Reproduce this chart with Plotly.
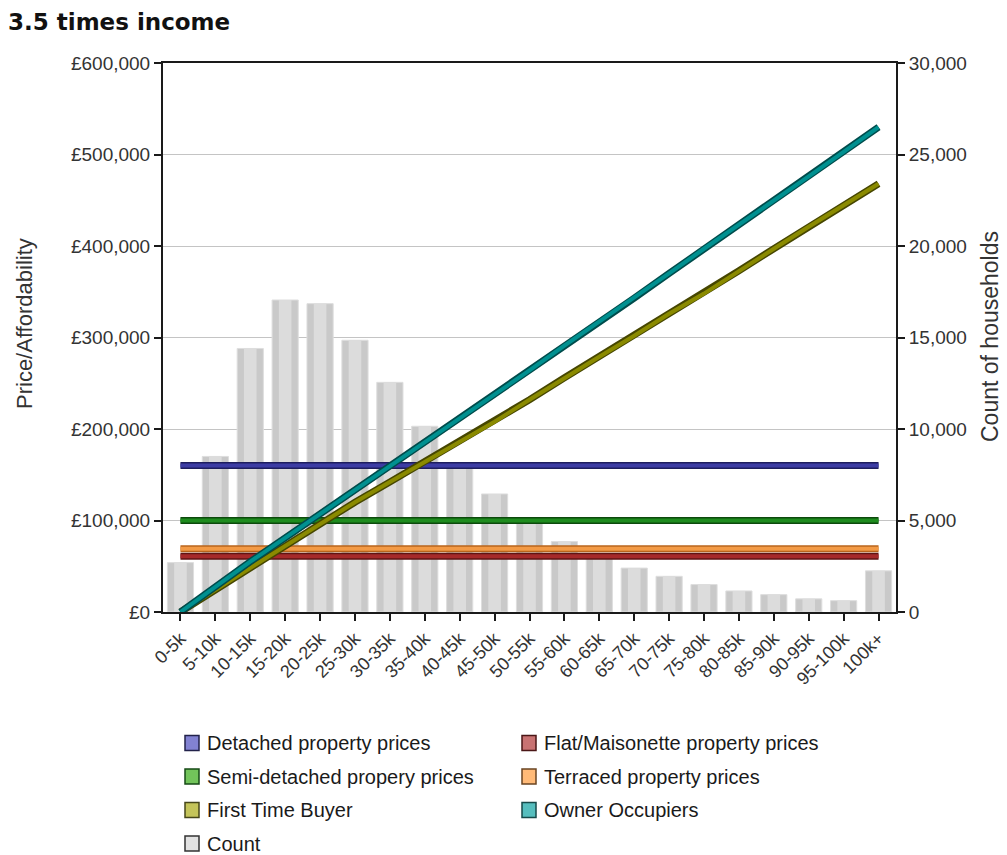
import plotly.graph_objects as go

# Income bands (household income)
bands = ["0-5k", "5-10k", "10-15k", "15-20k", "20-25k", "25-30k", "30-35k",
         "35-40k", "40-45k", "45-50k", "50-55k", "55-60k", "60-65k", "65-70k",
         "70-75k", "75-80k", "80-85k", "85-90k", "90-95k", "95-100k", "100k+"]

# Count of households in each band (right axis)
households = [2700, 8500, 14400, 17050, 16850, 14850, 12550, 10150, 8000, 6450,
              5050, 3850, 3050, 2400, 1950, 1500, 1150, 950, 720, 620, 2250]

# Average property prices (left axis)
detached = [160000] * 21
semi_detached = [100000] * 21
terraced = [69000] * 21
flat_maisonette = [61000] * 21

# Affordability at 3.5 times income
first_time_buyer = [0, 24000, 49000, 73000, 97000, 120000, 142000, 164000, 187000,
                    208000, 232000, 256000, 279000, 302000, 326000, 348000, 373000,
                    397000, 421000, 444000, 468000]
owner_occupiers = [0, 28000, 55000, 81000, 107000, 133000, 159000, 185000, 211000,
                   238000, 264000, 291000, 317000, 343000, 370000, 397000, 423000,
                   450000, 476000, 503000, 530000]

LABEL_FONT = "Liberation Sans, Arial, sans-serif"
TEXT = "#333333"

fig = go.Figure()

# Household counts as grey columns (primary axis, drawn underneath);
# a narrower lighter column on top gives the rounded shading
fig.add_trace(go.Bar(
    x=bands, y=households, name="Count", yaxis="y", width=0.75,
    marker=dict(color="#c9c9c9", line=dict(color="#dedede", width=1)),
    showlegend=False, hoverinfo="x+y",
))
fig.add_trace(go.Bar(
    x=bands, y=households, name="Count", yaxis="y", width=0.36,
    marker=dict(color="#dcdcdc", line=dict(width=0)),
    showlegend=False, hoverinfo="skip",
))

# Price lines: a dark wide stroke under a coloured core gives the bevelled look
line_series = [
    ("Flat/Maisonette property prices", flat_maisonette, "#5e1414", "#a62a2a"),
    ("Terraced property prices", terraced, "#b8651c", "#f39a45"),
    ("Semi-detached propery prices", semi_detached, "#0c4a0c", "#1e8c1e"),
    ("Detached property prices", detached, "#1e1e5e", "#3c3ca4"),
    ("First Time Buyer", first_time_buyer, "#464600", "#8a8a00"),
    ("Owner Occupiers", owner_occupiers, "#004c4c", "#009090"),
]
for name, vals, edge, core in line_series:
    fig.add_trace(go.Scatter(
        x=bands, y=vals, yaxis="y2", mode="lines", name=name,
        line=dict(color=edge, width=7), showlegend=False, hoverinfo="skip",
    ))
    fig.add_trace(go.Scatter(
        x=bands, y=vals, yaxis="y2", mode="lines", name=name,
        line=dict(color=core, width=4), showlegend=False,
    ))

# Plot area in pixels
L, R, T, B = 163, 896, 63, 612
W, H = 1007, 855


def px(x):
    return (x - L) / (R - L)


def py(y):
    return (B - y) / (B - T)


shapes = []
annotations = []

# Legend: square swatches with labels in two columns
legend_items = [
    ("Detached property prices", "#8282d2", "#22224a", 185, 743),
    ("Flat/Maisonette property prices", "#c87272", "#4a1616", 522, 743),
    ("Semi-detached propery prices", "#72c45a", "#164a16", 185, 776.5),
    ("Terraced property prices", "#ffba78", "#6a4422", 522, 776.5),
    ("First Time Buyer", "#c4c45a", "#46461a", 185, 810),
    ("Owner Occupiers", "#56bebe", "#164a4a", 522, 810),
    ("Count", "#e2e2e2", "#333333", 185, 843.5),
]
for label, fill, border, x0, yc in legend_items:
    shapes.append(dict(
        type="rect", xref="paper", yref="paper",
        x0=px(x0), x1=px(x0 + 14), y0=py(yc + 7.5), y1=py(yc - 7.5),
        fillcolor=fill, line=dict(color=border, width=1.5), layer="above",
    ))
    annotations.append(dict(
        text=label, xref="paper", yref="paper", x=px(x0 + 20), y=py(yc),
        xanchor="left", yanchor="middle", showarrow=False,
        font=dict(family=LABEL_FONT, size=20, color="#1a1a1a"),
    ))

# Axis titles
annotations.append(dict(
    text="Price/Affordability", xref="paper", yref="paper",
    x=px(24), y=py(324), textangle=-90, showarrow=False,
    xanchor="center", yanchor="middle",
    font=dict(family=LABEL_FONT, size=22, color=TEXT),
))
annotations.append(dict(
    text="Count of households", xref="paper", yref="paper",
    x=px(990), y=py(336), textangle=-90, showarrow=False,
    xanchor="center", yanchor="middle",
    font=dict(family=LABEL_FONT, size=23, color=TEXT),
))

fig.update_layout(
    width=W, height=H,
    margin=dict(l=L, r=W - R, t=T, b=H - B),
    paper_bgcolor="white", plot_bgcolor="white",
    title=dict(
        text="<b>3.5 times income</b>", x=8 / W, xanchor="left",
        y=1 - 22 / H, yanchor="middle",
        font=dict(family="DejaVu Sans, Verdana, sans-serif", size=23, color="#111111"),
    ),
    barmode="overlay",
    showlegend=False,
    xaxis=dict(
        type="category", showline=True, linecolor="#1a1a1a", linewidth=2,
        mirror=True, ticks="outside", ticklen=7, tickwidth=2, tickcolor="#1a1a1a",
        tickangle=-45, showgrid=False,
        tickfont=dict(family=LABEL_FONT, size=18, color=TEXT),
    ),
    # Household count axis (right) carries the gridlines
    yaxis=dict(
        side="right", range=[0, 30000], dtick=5000, tickformat=",d",
        showline=True, linecolor="#1a1a1a", linewidth=2,
        ticks="outside", ticklen=7, tickwidth=1.5, tickcolor="#1a1a1a",
        showgrid=True, gridcolor="#c4c4c4", gridwidth=1, zeroline=False,
        tickfont=dict(family=LABEL_FONT, size=19, color=TEXT),
    ),
    # Price axis (left) drawn over the columns
    yaxis2=dict(
        overlaying="y", side="left", range=[0, 600000], dtick=100000,
        tickprefix="£", tickformat=",d",
        showline=True, linecolor="#1a1a1a", linewidth=2,
        ticks="outside", ticklen=7, tickwidth=1.5, tickcolor="#1a1a1a",
        showgrid=False, zeroline=False,
        tickfont=dict(family=LABEL_FONT, size=19, color=TEXT),
    ),
    shapes=shapes,
    annotations=annotations,
)

fig.write_html("out.html")
